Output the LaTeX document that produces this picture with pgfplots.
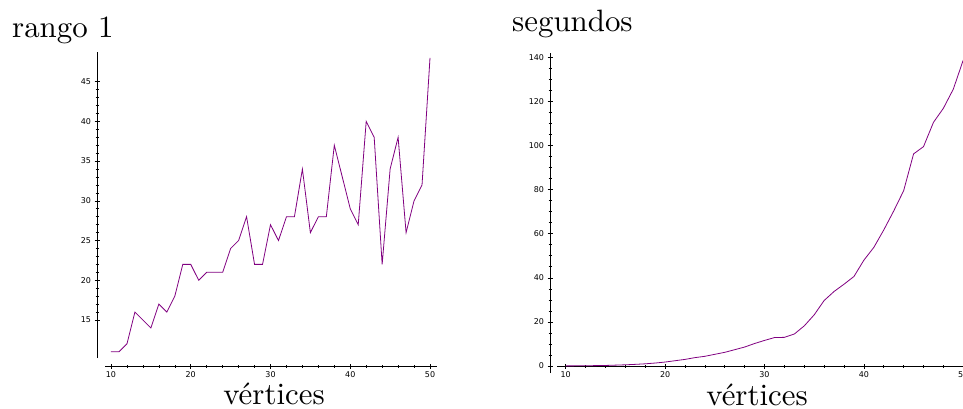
\documentclass[border=0pt]{standalone}
\usepackage{fontspec}
\usepackage{pgfplots}
\pgfplotsset{compat=1.18}
\newfontfamily\dejavu{DejaVu Sans}
\newfontfamily\lmten[Extension=.otf]{lmroman10-regular}
\definecolor{sagepurple}{RGB}{128,0,128}
\pgfplotsset{
  sagestyle/.style={
    scale only axis,
    anchor=south west,
    axis line style={-, line width=0.8bp, black},
    tick align=center,
    major tick length=5bp,
    minor tick length=3bp,
    tick style={black, line width=0.6bp},
    ticklabel style={font=\dejavu\fontsize{8}{9}\selectfont, text=black},
    /pgf/number format/assume math mode=true,
    clip=false,
  }
}
\begin{document}
\begin{tikzpicture}[x=1bp,y=1bp]
\useasboundingbox (0,0) rectangle (963,408);
\begin{axis}[sagestyle,
  at={(105bp,50bp)}, width=332bp, height=306bp,
  xmin=9.248, xmax=50.878, ymin=10.22, ymax=48.73,
  axis x line*=bottom, axis y line*=left,
  axis x line shift=8bp, axis y line shift=8bp,
  xtick={10,20,...,50}, ytick={15,20,...,45},
  minor x tick num=4, minor y tick num=4]
\addplot[color=sagepurple, line width=0.8bp] coordinates {
(10,11) (11,11) (12,12) (13,16) (14,15) (15,14) (16,17) (17,16) (18,18) (19,22)
(20,22) (21,20) (22,21) (23,21) (24,21) (25,24) (26,25) (27,28) (28,22) (29,22)
(30,27) (31,25) (32,28) (33,28) (34,34) (35,26) (36,28) (37,28) (38,37) (39,33)
(40,29) (41,27) (42,40) (43,38) (44,22) (45,34) (46,38) (47,26) (48,30) (49,32)
(50,48)};
\end{axis}
\begin{axis}[sagestyle,
  at={(557bp,35bp)}, width=415bp, height=320.3bp,
  xmin=9.125, xmax=50.88, ymin=-3.17, ymax=142.1,
  axis x line*=middle, axis y line*=left,
  axis y line shift=7bp,
  xtick={10,20,...,50}, ytick={0,20,...,140},
  minor x tick num=4, minor y tick num=3]
\addplot[color=sagepurple, line width=0.8bp] coordinates {
(10,0.05) (11,0.08) (12,0.12) (13,0.18) (14,0.25) (15,0.4) (16,0.55) (17,0.75) (18,1.0) (19,1.35)
(20,1.8) (21,2.4) (22,3.0) (23,3.8) (24,4.4) (25,5.3) (26,6.2) (27,7.4) (28,8.6) (29,10.2)
(30,11.6) (31,12.9) (32,13.0) (33,14.5) (34,18.2) (35,23.2) (36,29.7) (37,33.8) (38,37.1) (39,40.6)
(40,48.0) (41,53.8) (42,61.7) (43,70.3) (44,79.5) (45,96.2) (46,99.5) (47,110.5) (48,116.9) (49,125.6)
(50,138.8)};
\end{axis}
\node[anchor=base west, inner sep=0, font=\lmten\fontsize{31}{37}\selectfont] at (12,371) {rango 1};
\node[anchor=base west, inner sep=0, font=\lmten\fontsize{31}{37}\selectfont] at (512,377) {segundos};
\node[anchor=base, inner sep=0, font=\lmten\fontsize{31}{37}\selectfont] at (274,4) {vértices};
\node[anchor=base, inner sep=0, font=\lmten\fontsize{31}{37}\selectfont] at (757,2.5) {vértices};
\end{tikzpicture}
\end{document}
